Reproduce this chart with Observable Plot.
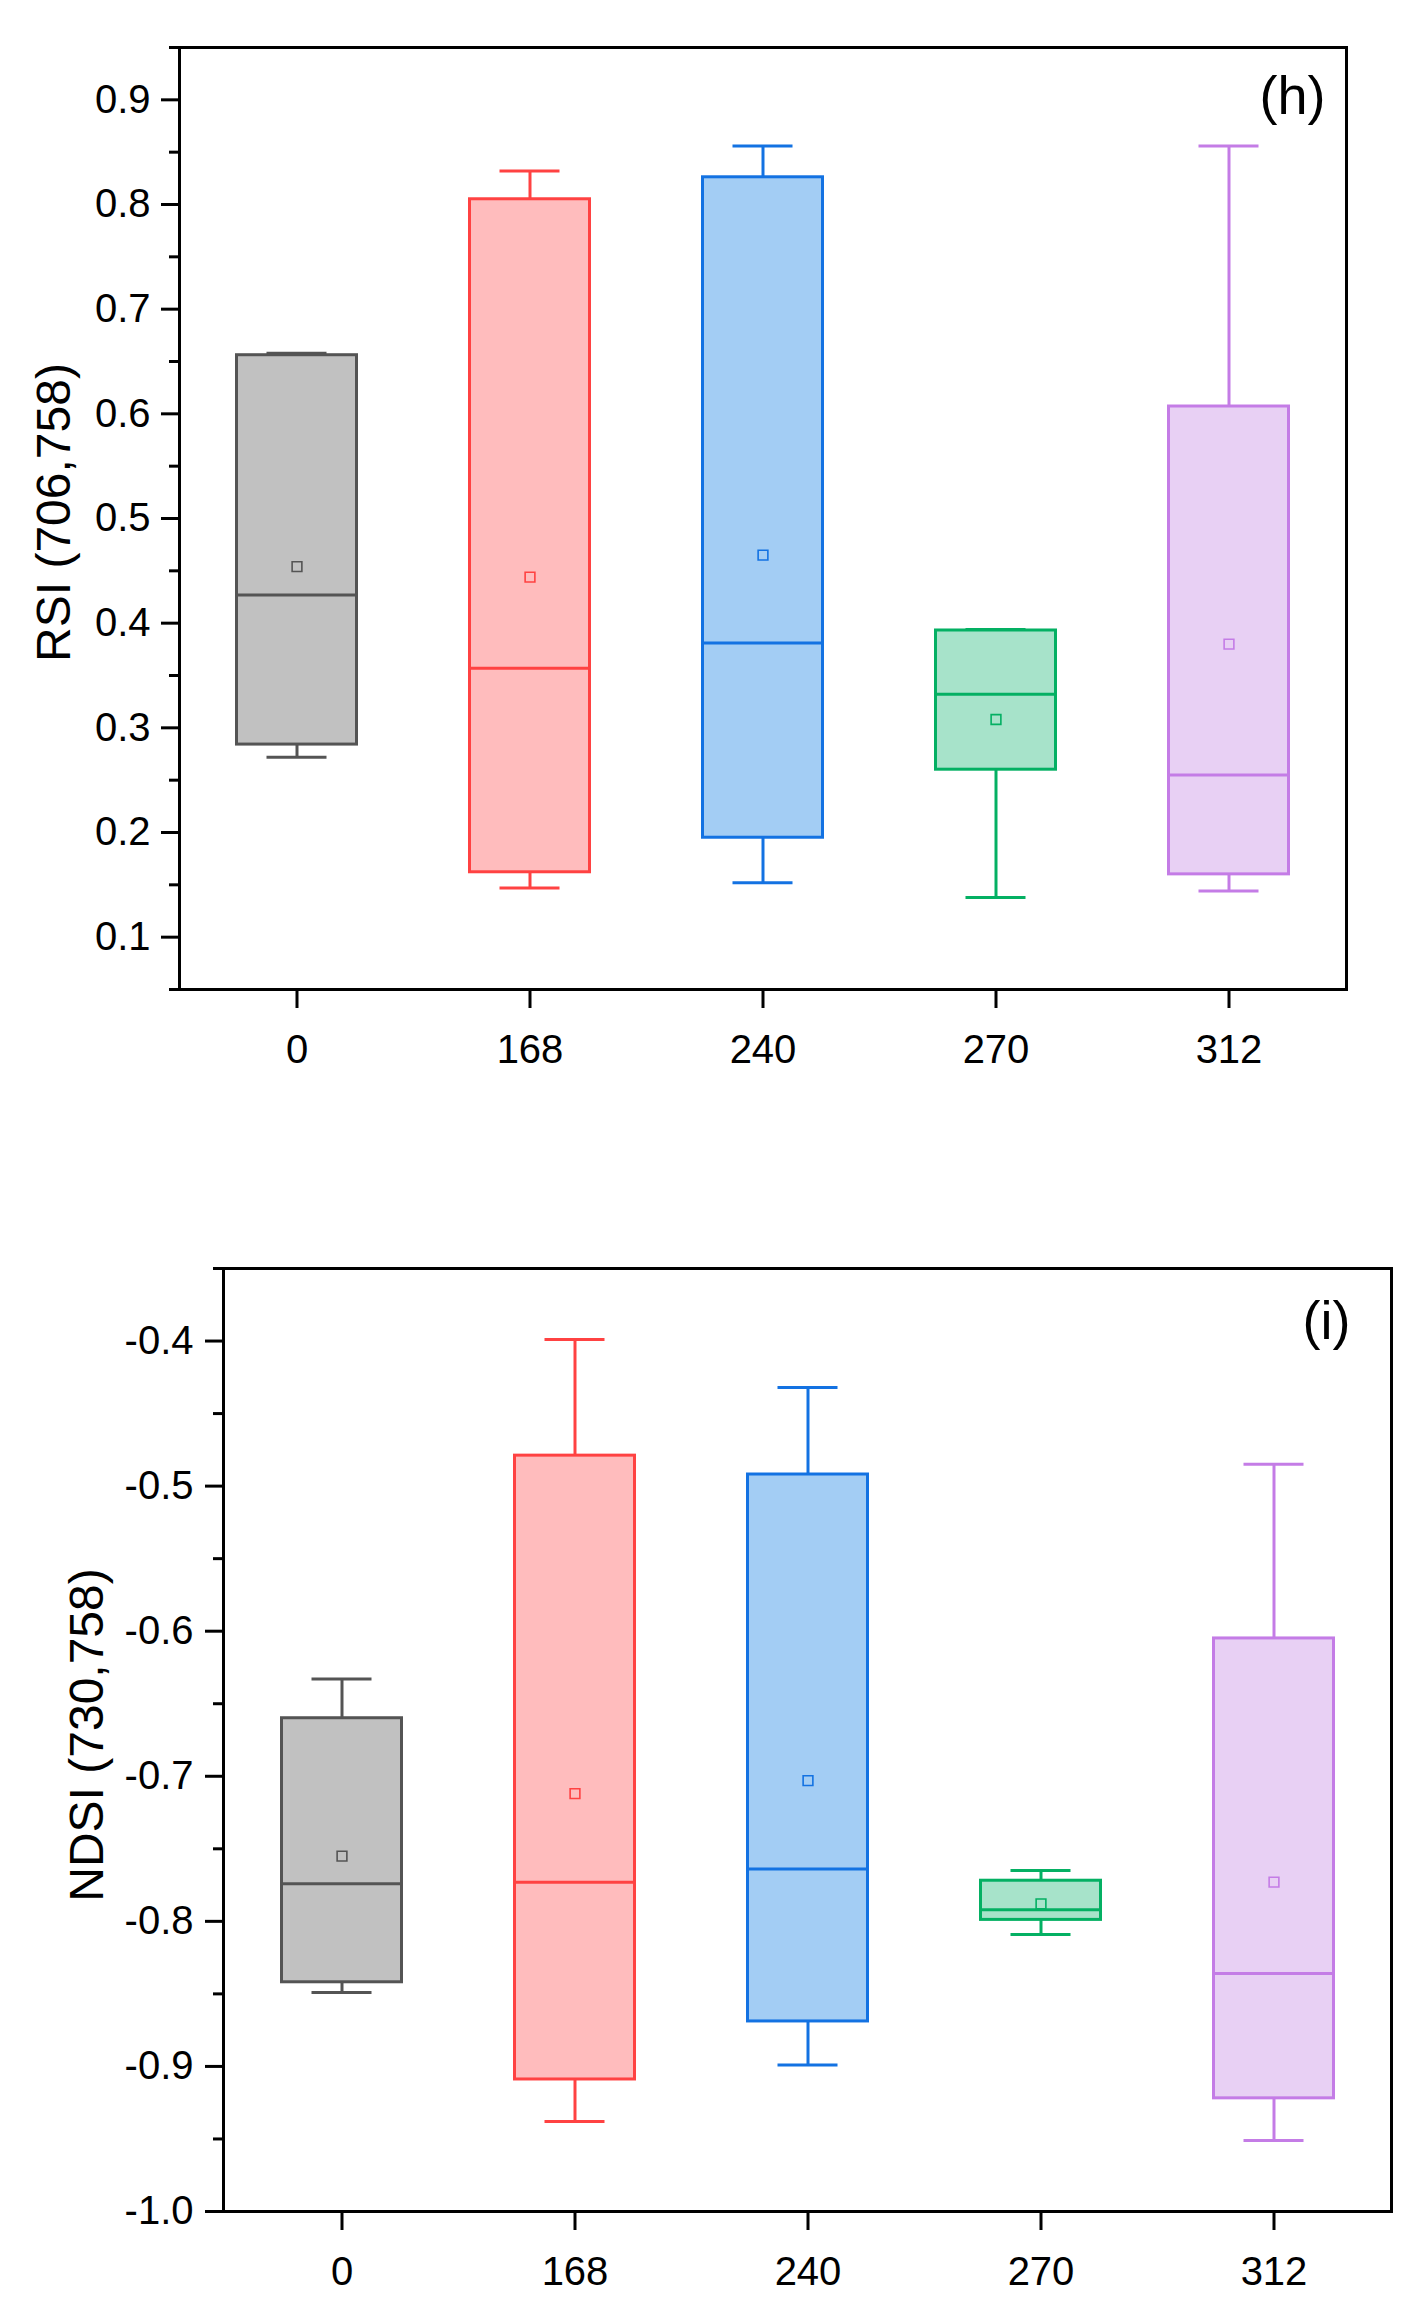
<!DOCTYPE html>
<html>
<head>
<meta charset="utf-8">
<script src="https://cdn.jsdelivr.net/npm/d3@7"></script>
<script src="https://cdn.jsdelivr.net/npm/@observablehq/plot@0.6"></script>
<style>
  html, body { margin: 0; padding: 0; background: #fff; overflow: hidden; }
  #chart svg { display: block; }
</style>
</head>
<body>
<div id="chart"></div>
<script>
// Categories (time)
const times = ["0", "168", "240", "270", "312"];
const strokeColors = ["#545454", "#ff4242", "#1372e2", "#04b063", "#c47ce6"];
const fillColors   = ["#c1c1c1", "#ffbcbd", "#a3cdf4", "#a7e3ca", "#e8d0f4"];

// Panel (h): RSI (706,758)
const rsiWhiskerLow  = [0.272, 0.147, 0.152, 0.138, 0.144];
const rsiQ1          = [0.284, 0.162, 0.195, 0.260, 0.160];
const rsiMedian      = [0.427, 0.357, 0.381, 0.332, 0.255];
const rsiQ3          = [0.656, 0.805, 0.826, 0.393, 0.607];
const rsiWhiskerHigh = [0.658, 0.832, 0.856, 0.394, 0.856];
const rsiMean        = [0.454, 0.444, 0.465, 0.308, 0.380];
const rsiMajorTicks  = [0.1, 0.2, 0.3, 0.4, 0.5, 0.6, 0.7, 0.8, 0.9];
const rsiMinorTicks  = [0.05, 0.15, 0.25, 0.35, 0.45, 0.55, 0.65, 0.75, 0.85, 0.95];

// Panel (i): NDSI (730,758)
const ndsiWhiskerLow  = [-0.849, -0.938, -0.899, -0.809, -0.951];
const ndsiQ1          = [-0.842, -0.909, -0.869, -0.799, -0.922];
const ndsiMedian      = [-0.774, -0.773, -0.764, -0.792, -0.836];
const ndsiQ3          = [-0.660, -0.479, -0.492, -0.772, -0.605];
const ndsiWhiskerHigh = [-0.633, -0.399, -0.432, -0.765, -0.485];
const ndsiMean        = [-0.755, -0.712, -0.703, -0.788, -0.773];
const ndsiMajorTicks  = [-1.0, -0.9, -0.8, -0.7, -0.6, -0.5, -0.4];
const ndsiMinorTicks  = [-0.95, -0.85, -0.75, -0.65, -0.55, -0.45, -0.35];

const FONT = "'Liberation Sans', Arial, Helvetica, sans-serif";

function rowsOf(lo, q1, med, q3, hi, mean) {
  return times.map((t, i) => ({
    time: t, lo: lo[i], q1: q1[i], median: med[i], q3: q3[i], hi: hi[i], mean: mean[i],
    stroke: strokeColors[i], fill: fillColors[i]
  }));
}

function panel(o) {
  const rows = o.rows;
  const boxInset = 56.5, capInset = 86.5;
  return Plot.plot({
    width: 1422,
    height: o.height,
    marginTop: o.marginTop,
    marginBottom: o.marginBottom,
    marginLeft: o.marginLeft,
    marginRight: o.marginRight,
    style: {fontFamily: FONT, background: "white", color: "black", overflow: "visible"},
    x: {type: "band", domain: times, padding: 0},
    y: {domain: o.yDomain},
    color: {type: "identity"},
    marks: [
      // whiskers
      Plot.ruleX(rows, {x: "time", y1: "lo", y2: "q1", stroke: "stroke", strokeWidth: 3}),
      Plot.ruleX(rows, {x: "time", y1: "q3", y2: "hi", stroke: "stroke", strokeWidth: 3}),
      Plot.tickY(rows, {x: "time", y: "lo", stroke: "stroke", strokeWidth: 3, insetLeft: capInset, insetRight: capInset}),
      Plot.tickY(rows, {x: "time", y: "hi", stroke: "stroke", strokeWidth: 3, insetLeft: capInset, insetRight: capInset}),
      // boxes
      Plot.barY(rows, {x: "time", y1: "q1", y2: "q3", fill: "fill", stroke: "stroke", strokeWidth: 3, insetLeft: boxInset, insetRight: boxInset}),
      // medians
      Plot.tickY(rows, {x: "time", y: "median", stroke: "stroke", strokeWidth: 3, insetLeft: boxInset, insetRight: boxInset}),
      // means
      Plot.dot(rows, {x: "time", y: "mean", symbol: "square", r: 5.5, stroke: "stroke", fill: "fill", strokeWidth: 1.6}),
      // axes
      Plot.axisY(o.minorTicks, {tickSize: 10, strokeWidth: 3, tickFormat: () => "", label: null}),
      Plot.axisY(o.majorTicks, {tickSize: 18, tickPadding: o.yTickPadding, strokeWidth: 3, fontSize: 40, tickFormat: d => d.toFixed(1), label: null}),
      Plot.axisX({tickSize: 19, tickPadding: o.xTickPadding, strokeWidth: 3, fontSize: 40, label: null}),
      Plot.frame({stroke: "black", strokeWidth: 3}),
      // y-axis title
      Plot.text([o.yLabel], {text: d => d, frameAnchor: "left", rotate: -90, dx: o.labelDx, dy: o.labelDy, fontSize: 48, textAnchor: "middle", lineAnchor: "middle"}),
      // panel tag
      Plot.text([o.tag], {text: d => d, frameAnchor: "top-right", textAnchor: "end", lineAnchor: "bottom", dx: o.tagDx, dy: o.tagDy, fontSize: 54})
    ]
  });
}

const panelH = panel({
  rows: rowsOf(rsiWhiskerLow, rsiQ1, rsiMedian, rsiQ3, rsiWhiskerHigh, rsiMean),
  yDomain: [0.05, 0.95], majorTicks: rsiMajorTicks, minorTicks: rsiMinorTicks,
  yLabel: "RSI (706,758)", tag: "(h)",
  height: 1100, marginTop: 47, marginBottom: 111, marginLeft: 179, marginRight: 76,
  yTickPadding: 11, xTickPadding: 26, labelDx: -125, labelDy: -6, tagDx: -21, tagDy: 66
});

const panelI = panel({
  rows: rowsOf(ndsiWhiskerLow, ndsiQ1, ndsiMedian, ndsiQ3, ndsiWhiskerHigh, ndsiMean),
  yDomain: [-1.0, -0.35], majorTicks: ndsiMajorTicks, minorTicks: ndsiMinorTicks,
  yLabel: "NDSI (730,758)", tag: "(i)",
  height: 1213, marginTop: 168, marginBottom: 102, marginLeft: 223, marginRight: 31,
  yTickPadding: 12, xTickPadding: 26, labelDx: -136, labelDy: -5, tagDx: -41, tagDy: 70
});

const chart = document.getElementById("chart");
chart.appendChild(panelH);
chart.appendChild(panelI);
</script>
</body>
</html>
